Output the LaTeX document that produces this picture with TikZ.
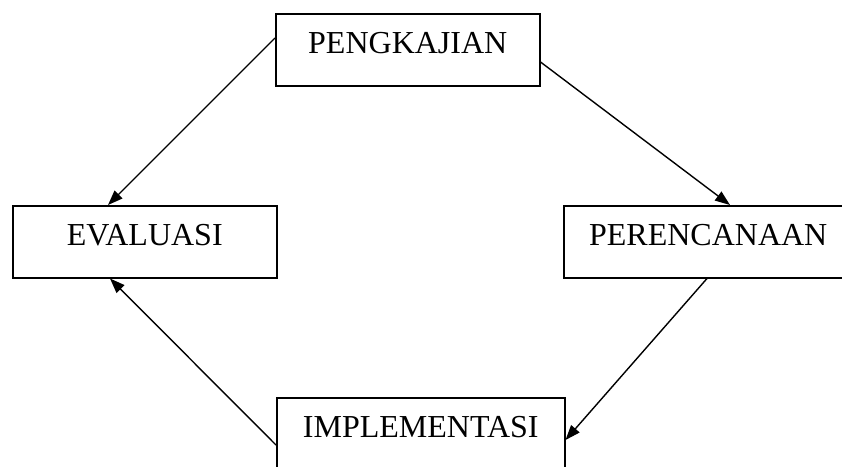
\documentclass[tikz,border=0pt]{standalone}
\usepackage{fontspec}
\setmainfont{Liberation Serif}
\usetikzlibrary{arrows.meta}
\begin{document}
\begin{tikzpicture}[x=1pt,y=-1pt,
  stagebox/.style={draw,line width=1.5pt,inner sep=0pt,text height=40pt,text depth=32pt,font=\fontsize{32}{36}\selectfont},
  flow/.style={line width=1.4pt,-{Triangle[length=15pt,width=11pt]}}]
\useasboundingbox (0,0) rectangle (842,466);
\clip (0,0) rectangle (842,466);
\node[stagebox,minimum width=264pt,anchor=north west] (peng) at (275,13) {PENGKAJIAN};
\node[stagebox,minimum width=264pt,anchor=north west] (eval) at (12,205) {EVALUASI};
\node[stagebox,minimum width=289pt,anchor=north west] (pere) at (563,205) {PERENCANAAN};
\node[stagebox,minimum width=288pt,anchor=north west] (impl) at (276,397) {IMPLEMENTASI};
\draw[flow] ([yshift=-25pt]peng.north west) -- ([xshift=96pt]eval.north west);
\draw[flow] ([yshift=-49pt]peng.north east) -- ([xshift=167pt]pere.north west);
\draw[flow] ([xshift=144pt]pere.south west) -- ([yshift=-43pt]impl.north east);
\draw[flow] ([yshift=-48pt]impl.north west) -- ([xshift=98pt]eval.south west);
\end{tikzpicture}
\end{document}
